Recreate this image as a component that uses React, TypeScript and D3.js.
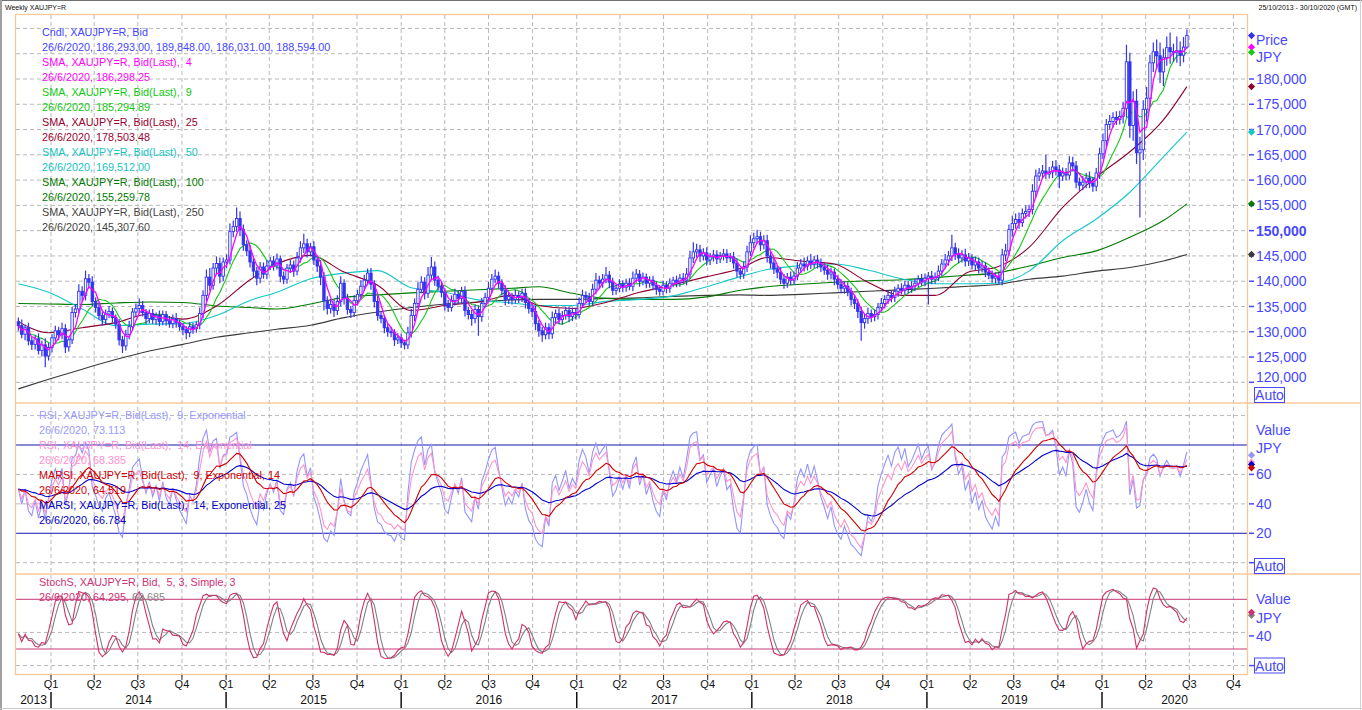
'use client';

import * as d3 from 'd3';
import React, { useEffect, useRef } from 'react';

// weekly candles, first one is the week of 25/10/2013, values in thousands of JPY
const firstWeek = Date.UTC(2013, 9, 25);
const firstOpen = 132.0;

const closes = [
  131.2, 129.5, 130.8, 128.2, 127.5, 128.6, 126.3, 127.4, 125.2, 126.9,
  128.8, 130.2, 129.4, 130.6, 127.0, 128.4, 133.8, 134.5, 138.0, 137.2,
  140.5, 139.8, 136.0, 134.8, 133.2, 132.4, 133.5, 134.0, 132.8, 131.5,
  128.4, 127.2, 129.5, 131.0, 133.9, 134.6, 135.2, 133.8, 132.6, 133.6,
  132.4, 133.2, 132.0, 133.4, 132.2, 131.6, 132.6, 131.8, 131.0, 130.4,
  129.8, 131.0, 130.6, 131.4, 133.6, 137.2, 140.8, 139.2, 142.6, 143.5,
  141.0, 143.8, 144.2, 149.8, 150.8, 152.4, 150.2, 147.2, 146.0, 143.8,
  142.0, 140.6, 142.8, 141.4, 143.0, 144.0, 143.2, 144.4, 141.0, 140.4,
  142.6, 143.2, 142.0, 144.6, 146.6, 147.4, 145.8, 146.8, 144.2, 143.0,
  140.8, 136.2, 134.6, 135.4, 134.2, 136.0, 139.6, 136.6, 134.4, 133.8,
  136.2, 137.4, 139.0, 140.2, 141.6, 139.4, 136.0, 133.2, 132.6, 130.8,
  130.0, 129.8, 128.4, 128.8, 127.8, 127.4, 129.8, 133.2, 135.6, 138.4,
  139.8, 137.6, 141.2, 142.8, 140.2, 139.0, 137.8, 135.4, 134.8, 136.2,
  137.4, 136.6, 138.0, 134.2, 133.4, 132.6, 134.4, 133.0, 135.6, 136.8,
  138.6, 140.4, 141.0, 139.6, 138.2, 136.4, 137.0, 136.4, 137.2, 136.8,
  137.6, 135.8, 134.6, 134.0, 131.6, 130.2, 129.4, 130.8, 129.6, 132.8,
  133.6, 132.4, 133.2, 134.2, 133.0, 133.8, 133.4, 135.6, 137.2, 136.8,
  136.0, 138.4, 140.2, 139.6, 140.4, 141.2, 139.8, 138.2, 138.6, 139.4,
  138.8, 139.6, 139.0, 140.6, 141.4, 140.0, 140.8, 139.6, 140.2, 139.2,
  138.4, 138.0, 139.2, 138.6, 139.6, 140.2, 139.8, 140.6, 140.2, 141.4,
  144.6, 145.8, 146.2, 145.0, 145.6, 144.2, 144.8, 145.2, 144.4, 145.0,
  145.4, 144.6, 144.8, 143.6, 142.0, 141.4, 142.8, 145.8, 147.6, 148.4,
  148.8, 147.2, 148.0, 145.0, 143.6, 142.4, 141.8, 140.4, 139.6, 140.8,
  140.2, 141.0, 142.6, 143.4, 143.0, 144.0, 143.4, 144.2, 143.6, 142.8,
  142.2, 141.4, 141.8, 140.4, 139.4, 138.6, 139.0, 138.0, 136.4, 135.6,
  134.0, 131.8, 132.6, 133.6, 133.0, 133.4, 134.8, 135.6, 136.4, 137.2,
  136.8, 138.0, 138.6, 138.2, 139.2, 138.6, 139.0, 139.6, 140.4, 140.0,
  140.6, 141.0, 140.4, 140.8, 142.0, 143.4, 144.2, 145.0, 146.6, 145.4,
  144.6, 145.2, 144.0, 144.6, 143.2, 143.8, 142.6, 143.0, 141.8, 141.2,
  140.6, 141.0, 140.2, 145.2, 146.0, 150.2, 151.4, 152.2, 151.6, 153.4,
  153.8, 154.2, 157.8, 160.8, 161.4, 161.8, 161.2, 161.6, 162.6, 162.0,
  160.8, 161.4, 161.0, 163.4, 162.8, 159.6, 159.0, 159.6, 160.4, 159.4,
  158.8, 161.4, 165.2, 167.8, 171.0, 171.6, 172.4, 172.0, 172.6, 174.2,
  183.4, 170.8, 175.6, 165.4, 166.0, 174.0, 176.2, 183.2, 185.4, 184.6,
  181.4, 184.2, 186.2, 185.4, 185.2, 185.6, 184.7, 186.3, 188.6,
];

// wick length above the body and below the body, thousands
const wickUp = [
  0.8, 1.2, 0.6, 1.0, 0.9, 0.7, 1.1, 0.8, 1.3, 0.9,
  0.7, 1.0, 0.8, 1.2, 0.9, 0.6, 1.1, 0.9, 1.4, 1.0,
  1.6, 0.9, 1.2, 0.8, 1.0, 0.7, 0.9, 1.1, 0.8, 0.6,
  1.0, 0.8, 0.9, 1.2, 0.8, 1.0, 1.4, 0.9, 0.7, 0.8,
  0.9, 0.6, 1.0, 0.8, 0.7, 0.9, 0.8, 1.1, 0.6, 0.8,
  0.7, 0.9, 0.8, 0.6, 1.2, 1.0, 1.5, 1.8, 1.0, 1.4,
  1.2, 0.9, 1.1, 1.6, 1.2, 2.2, 1.4, 1.0, 0.9, 1.2,
  1.1, 0.8, 1.0, 0.9, 1.2, 0.8, 1.0, 1.1, 0.7, 0.9,
  0.8, 1.0, 0.9, 1.2, 1.3, 2.0, 1.0, 0.8, 1.1, 0.9,
  1.2, 1.0, 0.8, 1.1, 0.9, 1.2, 1.4, 0.8, 0.9, 0.7,
  1.0, 0.9, 1.2, 1.1, 0.9, 1.0, 0.8, 1.1, 0.9, 0.7,
  0.8, 1.0, 0.7, 0.9, 0.8, 0.6, 1.2, 1.3, 1.0, 1.4,
  1.2, 1.0, 1.6, 2.0, 1.1, 0.9, 1.0, 0.8, 0.9, 1.0,
  1.1, 0.8, 0.9, 1.0, 0.7, 0.9, 1.0, 0.8, 1.1, 0.9,
  1.2, 1.0, 1.3, 0.9, 0.8, 1.0, 0.9, 0.7, 1.1, 0.8,
  0.9, 1.0, 0.8, 0.9, 1.1, 0.7, 0.8, 1.0, 0.9, 1.2,
  0.8, 1.0, 0.9, 0.7, 0.8, 1.0, 0.9, 1.2, 1.1, 0.8,
  0.9, 1.1, 1.4, 0.9, 1.0, 1.6, 0.8, 0.9, 0.7, 1.0,
  0.8, 0.9, 1.0, 1.3, 1.0, 0.8, 0.9, 0.7, 0.8, 0.9,
  0.7, 0.8, 0.9, 0.8, 1.0, 0.7, 0.9, 0.8, 1.0, 1.2,
  1.4, 1.9, 1.2, 1.0, 0.9, 1.1, 0.8, 1.0, 0.9, 0.8,
  1.0, 0.9, 0.8, 1.0, 0.9, 0.7, 1.1, 1.2, 1.5, 1.2,
  1.4, 1.0, 1.1, 1.2, 0.9, 1.0, 0.8, 0.9, 1.0, 0.8,
  1.1, 0.9, 1.2, 1.0, 1.3, 0.9, 1.4, 0.8, 1.0, 0.9,
  0.8, 1.0, 0.9, 0.7, 0.8, 1.0, 0.9, 0.8, 0.7, 0.9,
  0.8, 1.0, 0.9, 1.2, 0.8, 1.0, 0.9, 1.1, 0.8, 0.9,
  1.0, 0.9, 0.8, 1.0, 0.9, 0.8, 1.0, 0.9, 0.8, 1.0,
  0.9, 0.8, 1.0, 0.9, 1.1, 1.0, 1.2, 1.0, 2.6, 1.0,
  1.1, 0.9, 1.2, 1.0, 0.8, 1.1, 0.9, 1.0, 0.8, 0.9,
  0.9, 0.7, 0.8, 1.2, 1.4, 1.0, 1.6, 1.2, 1.4, 1.0,
  1.2, 0.9, 1.4, 1.3, 1.0, 1.2, 3.2, 1.0, 1.2, 1.4,
  1.0, 1.1, 1.0, 1.3, 1.2, 1.0, 0.9, 1.2, 1.0, 1.3,
  1.1, 1.0, 1.2, 1.4, 1.1, 1.3, 1.0, 1.2, 1.1, 1.3,
  3.4, 1.8, 2.0, 2.4, 2.6, 1.8, 2.2, 1.6, 1.8, 2.4,
  2.6, 1.8, 2.2, 3.0, 1.6, 2.8, 1.8, 2.0, 1.2,
];

const wickDown = [
  1.0, 0.8, 1.2, 0.9, 1.1, 1.0, 0.8, 1.2, 2.2, 0.9,
  1.0, 0.8, 1.1, 0.9, 1.2, 0.9, 0.8, 1.0, 0.9, 1.2,
  1.0, 1.1, 0.9, 1.0, 0.8, 1.2, 0.9, 0.8, 1.0, 0.9,
  1.1, 1.4, 0.9, 1.0, 0.8, 0.9, 1.0, 0.8, 1.1, 0.9,
  0.8, 1.0, 0.9, 0.7, 1.0, 0.8, 0.9, 1.0, 0.8, 1.1,
  1.3, 0.9, 1.0, 0.8, 0.9, 1.0, 1.2, 1.1, 0.9, 1.3,
  1.4, 1.0, 1.2, 0.9, 1.1, 1.0, 1.3, 1.2, 1.0, 1.1,
  1.2, 1.4, 1.0, 0.9, 1.0, 0.8, 1.1, 0.9, 1.2, 1.0,
  0.9, 1.0, 1.1, 0.8, 0.9, 1.0, 1.1, 0.9, 1.0, 1.2,
  1.6, 2.0, 1.2, 1.0, 1.3, 0.9, 1.0, 1.2, 1.0, 1.1,
  0.9, 1.0, 0.8, 0.9, 1.0, 1.1, 1.2, 1.0, 0.9, 1.1,
  1.0, 0.9, 1.2, 0.8, 1.0, 0.9, 0.8, 1.0, 1.1, 0.9,
  0.8, 1.2, 0.9, 1.0, 1.1, 0.9, 1.0, 1.2, 0.9, 0.8,
  1.0, 1.1, 0.9, 1.2, 1.0, 1.4, 0.9, 3.8, 1.0, 0.8,
  0.9, 1.0, 0.8, 1.1, 1.0, 1.2, 0.9, 1.0, 0.8, 1.1,
  0.9, 1.2, 1.0, 1.1, 1.3, 1.2, 1.4, 0.9, 1.1, 1.0,
  1.2, 0.9, 1.0, 0.8, 1.1, 0.9, 1.0, 0.8, 0.9, 1.0,
  0.9, 0.8, 1.0, 1.1, 0.9, 0.8, 1.2, 1.0, 0.9, 0.8,
  1.0, 0.9, 0.8, 1.0, 0.9, 1.1, 0.8, 1.0, 0.9, 1.0,
  1.1, 0.9, 0.8, 1.0, 0.9, 0.8, 1.0, 0.9, 0.8, 1.0,
  0.9, 1.0, 1.1, 1.2, 0.9, 1.1, 1.0, 0.9, 1.0, 0.8,
  0.9, 1.0, 0.8, 1.1, 1.2, 1.0, 0.9, 1.0, 0.8, 1.1,
  1.0, 1.2, 0.9, 1.3, 1.1, 1.0, 1.2, 1.0, 1.1, 0.9,
  1.0, 0.9, 0.8, 1.0, 1.1, 0.9, 1.0, 0.8, 1.1, 1.0,
  0.9, 1.1, 1.0, 1.2, 0.9, 1.0, 1.1, 1.0, 1.2, 1.1,
  1.3, 3.6, 1.2, 1.0, 1.1, 0.9, 1.0, 0.8, 1.0, 0.9,
  1.0, 0.9, 1.1, 0.8, 0.9, 1.0, 0.9, 1.0, 0.8, 0.9,
  1.0, 5.2, 1.0, 0.9, 0.8, 1.0, 0.9, 1.1, 1.0, 1.2,
  1.0, 0.9, 1.1, 1.0, 0.9, 1.0, 1.1, 0.9, 1.0, 0.8,
  0.9, 1.0, 0.8, 1.0, 1.2, 1.0, 1.4, 1.0, 1.2, 0.9,
  1.0, 1.1, 1.0, 1.2, 1.0, 1.1, 1.0, 0.9, 1.2, 1.1,
  2.4, 1.0, 1.1, 0.9, 1.0, 1.2, 1.1, 1.0, 1.2, 1.0,
  1.1, 1.0, 1.2, 1.1, 1.3, 1.0, 1.2, 1.1, 1.0, 1.4,
  1.8, 2.4, 3.0, 2.2, 12.8, 2.0, 2.4, 1.6, 1.8, 2.6,
  2.2, 2.8, 1.6, 2.4, 1.8, 2.0, 2.2, 1.4, 0.3,
];

// longer moving averages at these week numbers
const smaWeeks = [
  0, 9, 19, 29, 39, 49, 59, 69, 77, 87, 97, 107, 117, 127, 137, 147, 155, 165, 175,
  185, 195, 205, 215, 223, 233, 243, 253, 263, 273, 283, 291, 301, 311, 321, 331, 341, 348,
];
const sma25 = [
  132.0, 129.8, 130.8, 131.8, 133.5, 132.5, 135.1, 140.3, 143.4, 145.1, 141.8, 139.2, 134.2, 135.2, 135.9, 137.2, 135.2, 134.6, 135.8,
  137.8, 139.3, 140.9, 142.5, 144.7, 144.0, 143.4, 139.8, 137.2, 137.2, 141.8, 142.7, 146.7, 154.6, 160.6, 165.6, 171.9, 178.5,
];
const sma50 = [
  139.5, 137.8, 134.5, 131.2, 131.5, 131.6, 133.2, 136.2, 137.8, 140.5, 141.6, 142.1, 138.7, 137.8, 136.3, 135.7, 135.2, 135.2, 136.0,
  136.4, 137.1, 138.9, 140.9, 142.3, 143.1, 143.4, 142.2, 140.5, 139.5, 139.5, 139.6, 142.0, 148.0, 152.3, 157.6, 164.6, 169.5,
];
const sma100 = [
  135.6, 135.5, 135.4, 135.7, 135.9, 135.8, 135.1, 134.8, 134.5, 135.5, 136.8, 137.3, 137.7, 138.0, 138.3, 138.6, 138.9, 137.6, 136.6,
  136.4, 136.4, 136.9, 138.2, 138.9, 139.4, 139.8, 140.1, 140.3, 140.7, 141.2, 141.6, 143.0, 144.7, 146.0, 148.7, 152.0, 155.3,
];
const sma250 = [
  118.7, 120.6, 122.6, 124.5, 126.2, 127.5, 128.9, 129.8, 130.5, 131.3, 132.8, 133.9, 134.8, 135.5, 135.9, 136.3, 136.4, 136.4, 136.6,
  136.7, 137.0, 137.2, 137.3, 137.2, 137.4, 137.7, 138.0, 138.3, 138.6, 139.0, 139.3, 140.4, 141.0, 142.0, 142.7, 144.0, 145.3,
];

const priceTicks = [120, 125, 130, 135, 140, 145, 150, 155, 160, 165, 170, 175, 180];
const priceGrid = [120, 125, 130, 135, 140, 145, 150, 155, 160, 165, 170, 175, 180, 185, 190];
const rsiTicks = [20, 40, 60];
const rsiGrid = [0, 40, 60, 100];
const rsiBands = [20, 80];
const stochTicks = [40];
const stochGrid = [0, 40];
const stochBands = [20, 80];
const years = [2013, 2014, 2015, 2016, 2017, 2018, 2019, 2020];

const mainLegend = [
  ['Cndl, XAUJPY=R, Bid', '#4646ff'],
  ['26/6/2020, 186,293.00, 189,848.00, 186,031.00, 188,594.00', '#4646ff'],
  ['SMA, XAUJPY=R, Bid(Last),  4', '#ff00ff'],
  ['26/6/2020, 186,298.25', '#ff00ff'],
  ['SMA, XAUJPY=R, Bid(Last),  9', '#11c811'],
  ['26/6/2020, 185,294.89', '#11c811'],
  ['SMA, XAUJPY=R, Bid(Last),  25', '#99002e'],
  ['26/6/2020, 178,503.48', '#99002e'],
  ['SMA, XAUJPY=R, Bid(Last),  50', '#14c4c4'],
  ['26/6/2020, 169,512.00', '#14c4c4'],
  ['SMA, XAUJPY=R, Bid(Last),  100', '#007a00'],
  ['26/6/2020, 155,259.78', '#007a00'],
  ['SMA, XAUJPY=R, Bid(Last),  250', '#444444'],
  ['26/6/2020, 145,307.60', '#444444'],
];
const rsiLegend = [
  ['RSI, XAUJPY=R, Bid(Last),  9, Exponential', '#9a9aff'],
  ['26/6/2020, 73.113', '#9a9aff'],
  ['RSI, XAUJPY=R, Bid(Last),  14, Exponential', '#ff8fd0'],
  ['26/6/2020, 68.385', '#ff8fd0'],
  ['MARSI, XAUJPY=R, Bid(Last),  9, Exponential, 14', '#d00000'],
  ['26/6/2020, 64.519', '#d00000'],
  ['MARSI, XAUJPY=R, Bid(Last),  14, Exponential, 25', '#0000c0'],
  ['26/6/2020, 66.784', '#0000c0'],
];

const W = 1362;
const H = 710;
const left = 16;
const right = 1247;
const top = 15;
const mainBottom = 403;
const rsiBottom = 574;
const bottom = 674;
const font = 'Liberation Sans, Arial, Helvetica, sans-serif';
const legendSize = 10.8;
const axisBlue = '#4848ff';
const candleBlue = '#3434f0';
const grid = '#b8b8b8';
const frame = '#f8c898';

function rollingMean(vals: number[], n: number) {
  return vals.map((_, i) => d3.mean(vals.slice(Math.max(0, i - n + 1), i + 1)) as number);
}

function ema(vals: number[], n: number) {
  const a = 2 / (n + 1);
  let e = vals[0];
  return vals.map(v => (e = e + a * (v - e)));
}

function rsi(vals: number[], n: number) {
  const a = 2 / (n + 1);
  const diffs = vals.slice(1).map((v, i) => v - vals[i]);
  const seed = (d3.mean(diffs.slice(0, n), d => Math.abs(d)) as number) / 2;
  let up = seed;
  let dn = seed;
  const out = [50];
  diffs.forEach(d => {
    up += a * (Math.max(d, 0) - up);
    dn += a * (Math.max(-d, 0) - dn);
    out.push((100 * up) / (up + dn));
  });
  return out;
}

export default function App() {
  const svgRef = useRef<SVGSVGElement | null>(null);

  useEffect(() => {
    document.body.style.margin = '0';

    const weeks = closes.map((_, i) => new Date(firstWeek + i * 7 * 864e5));
    const opens = closes.map((_, i) => (i === 0 ? firstOpen : closes[i - 1]));
    const highs = closes.map((c, i) => Math.max(opens[i], c) + wickUp[i]);
    const lows = closes.map((c, i) => Math.min(opens[i], c) - wickDown[i]);

    const x = d3.scaleUtc()
      .domain([new Date(Date.UTC(2014, 0, 1)), new Date(Date.UTC(2020, 0, 1))])
      .range([51, 1102]);
    const yMain = d3.scaleLinear().domain([120, 180]).range([382.3, 79]);
    const yRsi = d3.scaleLinear().domain([0, 80]).range([562.7, 445]);
    const yStoch = d3.scaleLinear().domain([20, 80]).range([649, 599.3]);

    // indicators
    const sma4 = rollingMean(closes, 4);
    const sma9 = rollingMean(closes, 9);
    const rsi9 = rsi(closes, 9);
    const rsi14 = rsi(closes, 14);
    const marsi9 = ema(rsi9, 14);
    const marsi14 = ema(rsi14, 25);
    const rawK = closes.map((c, i) => {
      const s = Math.max(0, i - 4);
      const hh = d3.max(highs.slice(s, i + 1)) as number;
      const ll = d3.min(lows.slice(s, i + 1)) as number;
      return (100 * (c - ll)) / (hh - ll);
    });
    const stochK = rollingMean(rawK, 3);
    const stochD = rollingMean(stochK, 3);

    const svg = d3.select(svgRef.current)
      .attr('width', W)
      .attr('height', H)
      .attr('viewBox', `0 0 ${W} ${H}`)
      .style('font-family', font);

    svg.selectAll('*').remove();

    svg.append('rect').attr('width', W).attr('height', H).attr('fill', '#fff');

    const defs = svg.append('defs');
    const clip = (id: string, y0: number, y1: number) =>
      defs.append('clipPath').attr('id', id)
        .append('rect').attr('x', left).attr('y', y0).attr('width', right - left).attr('height', y1 - y0);
    clip('clipMain', top, mainBottom);
    clip('clipRsi', mainBottom, rsiBottom);
    clip('clipStoch', rsiBottom, bottom);

    // window frame and header
    svg.append('line').attr('x1', 0).attr('x2', W).attr('y1', 0.5).attr('y2', 0.5).attr('stroke', '#707070');
    svg.append('line').attr('x1', 1).attr('x2', 1).attr('y1', 0).attr('y2', H).attr('stroke', '#a0a0a0').attr('stroke-width', 2);
    svg.append('line').attr('x1', 0).attr('x2', W).attr('y1', 708.5).attr('y2', 708.5).attr('stroke', '#c8c8c8');
    svg.append('line').attr('x1', W - 1.5).attr('x2', W - 1.5).attr('y1', 0).attr('y2', H).attr('stroke', '#d0d0d0');
    svg.append('text').attr('x', 5).attr('y', 10).attr('font-size', 7).attr('fill', '#111').text('Weekly XAUJPY=R');
    svg.append('text').attr('x', 1357).attr('y', 10).attr('font-size', 7).attr('fill', '#111')
      .attr('text-anchor', 'end').text('25/10/2013 - 30/10/2020 (GMT)');

    // quarter grid
    const quarters = d3.utcMonth.every(3)!.range(new Date(Date.UTC(2014, 0, 1)), new Date(Date.UTC(2020, 10, 1)));
    svg.append('g').selectAll('line').data(quarters).join('line')
      .attr('x1', d => x(d)).attr('x2', d => x(d))
      .attr('y1', top).attr('y2', bottom + 6)
      .attr('stroke', grid).attr('stroke-dasharray', '4,3');

    const hGrid = (vals: number[], y: (v: number) => number, dashed: boolean, color: string) =>
      svg.append('g').selectAll('line').data(vals).join('line')
        .attr('x1', left).attr('x2', right)
        .attr('y1', d => y(d)).attr('y2', d => y(d))
        .attr('stroke', color)
        .attr('stroke-dasharray', dashed ? '4,3' : null);
    hGrid(priceGrid, yMain, true, grid);
    hGrid(rsiGrid, yRsi, true, grid);
    hGrid(stochGrid, yStoch, true, grid);
    hGrid(rsiBands, yRsi, false, '#1414b0');
    hGrid(stochBands, yStoch, false, '#c83874');

    // main panel
    const main = svg.append('g').attr('clip-path', 'url(#clipMain)');
    const sampled = d3.line<number>()
      .x((_, i) => x(weeks[smaWeeks[i]]))
      .y(d => yMain(d))
      .curve(d3.curveMonotoneX);
    const weekly = (y: (v: number) => number) => d3.line<number>()
      .x((_, i) => x(weeks[i]))
      .y(d => y(d));

    [[sma250, '#3a3a3a'], [sma100, '#007a00'], [sma50, '#10c8c8'], [sma25, '#8c0030']].forEach(([vals, color]) => {
      main.append('path').datum(vals as number[])
        .attr('fill', 'none').attr('stroke', color as string).attr('stroke-width', 1.1)
        .attr('d', sampled);
    });
    main.append('path').datum(sma9)
      .attr('fill', 'none').attr('stroke', '#14c814').attr('stroke-width', 1.1)
      .attr('d', weekly(yMain));

    const candles = main.append('g').selectAll('g')
      .data(closes.map((c, i) => ({ t: weeks[i], o: opens[i], c, h: highs[i], l: lows[i] })))
      .join('g');
    candles.append('line')
      .attr('x1', d => x(d.t)).attr('x2', d => x(d.t))
      .attr('y1', d => yMain(d.h)).attr('y2', d => yMain(d.l))
      .attr('stroke', candleBlue).attr('stroke-width', 1.2);
    candles.append('rect')
      .attr('x', d => x(d.t) - 1.2).attr('width', 2.4)
      .attr('y', d => yMain(Math.max(d.o, d.c)))
      .attr('height', d => Math.max(1, Math.abs(yMain(d.o) - yMain(d.c))))
      .attr('fill', d => (d.c >= d.o ? '#fff' : candleBlue))
      .attr('stroke', candleBlue).attr('stroke-width', 0.9);

    main.append('path').datum(sma4)
      .attr('fill', 'none').attr('stroke', '#ff00ff').attr('stroke-width', 1.3)
      .attr('d', weekly(yMain));

    // RSI panel
    const rsiG = svg.append('g').attr('clip-path', 'url(#clipRsi)');
    [[rsi9, '#9494ff'], [rsi14, '#ff94cc'], [marsi14, '#0000c8'], [marsi9, '#d00000']].forEach(([vals, color]) => {
      rsiG.append('path').datum(vals as number[])
        .attr('fill', 'none').attr('stroke', color as string).attr('stroke-width', 1.1)
        .attr('d', weekly(yRsi));
    });

    // stochastic panel
    const stochG = svg.append('g').attr('clip-path', 'url(#clipStoch)');
    [[stochD, '#808080'], [stochK, '#d0306c']].forEach(([vals, color]) => {
      stochG.append('path').datum(vals as number[])
        .attr('fill', 'none').attr('stroke', color as string).attr('stroke-width', 1.1)
        .attr('d', weekly(yStoch));
    });

    // panel frames
    svg.append('rect').attr('x', left - 0.5).attr('y', top - 0.5)
      .attr('width', right - left + 1).attr('height', bottom - top + 1)
      .attr('fill', 'none').attr('stroke', frame).attr('stroke-width', 1.3);
    [mainBottom, rsiBottom].forEach(y => {
      svg.append('line').attr('x1', left).attr('x2', W - 2).attr('y1', y).attr('y2', y)
        .attr('stroke', frame).attr('stroke-width', 1.3);
    });

    // legends
    const legend = (rows: string[][], x0: number, y0: number) =>
      svg.append('g').selectAll('text').data(rows).join('text')
        .attr('x', x0).attr('y', (_, i) => y0 + i * 15)
        .attr('font-size', legendSize).attr('fill', d => d[1])
        .attr('xml:space', 'preserve').style('white-space', 'pre')
        .text(d => d[0]);
    legend(mainLegend, 42, 35.5);
    legend(rsiLegend, 39, 418.5);
    svg.append('text').attr('x', 39).attr('y', 585.5).attr('font-size', legendSize).attr('fill', '#cc3377')
      .attr('xml:space', 'preserve').style('white-space', 'pre')
      .text('StochS, XAUJPY=R, Bid,  5, 3, Simple, 3');
    const stochVal = svg.append('text').attr('x', 39).attr('y', 600.5).attr('font-size', legendSize);
    stochVal.append('tspan').attr('fill', '#cc3377').text('26/6/2020, 64.295, ');
    stochVal.append('tspan').attr('fill', '#888').text('60.685');

    // right axes
    const axis = svg.append('g').attr('fill', axisBlue).attr('font-size', 14);
    const tickMark = (y: number) =>
      axis.append('line').attr('x1', 1249).attr('x2', 1254).attr('y1', y).attr('y2', y)
        .attr('stroke', axisBlue).attr('stroke-width', 1.5);
    const label = (txt: string, y: number, bold = false) =>
      axis.append('text').attr('x', 1256).attr('y', y).attr('dy', '0.36em')
        .attr('font-weight', bold ? 'bold' : null).text(txt);
    const autoBox = (y: number) => {
      axis.append('rect').attr('x', 1254.5).attr('y', y - 7.5).attr('width', 30).attr('height', 15)
        .attr('fill', 'none').attr('stroke', axisBlue);
      axis.append('text').attr('x', 1269.5).attr('y', y).attr('dy', '0.36em')
        .attr('text-anchor', 'middle').text('Auto');
    };

    priceTicks.forEach(t => {
      const y = yMain(t);
      tickMark(y);
      label(d3.format(',')(t * 1000), t === 120 ? y - 5 : y, t === 150);
    });
    label('Price', yMain(187.7));
    label('JPY', yMain(184.3));
    autoBox(395);

    rsiTicks.forEach(t => {
      tickMark(yRsi(t));
      label(String(t), yRsi(t));
    });
    label('Value', yRsi(90));
    label('JPY', yRsi(78));
    tickMark(yRsi(0));
    autoBox(566);

    stochTicks.forEach(t => {
      tickMark(yStoch(t) + 3.5);
      label(String(t), yStoch(t) + 3.5);
    });
    label('Value', yStoch(80));
    label('JPY', yStoch(58));
    tickMark(yStoch(0));
    autoBox(665.5);

    // last-value markers
    const last = closes.length - 1;
    const diamond = d3.symbol(d3.symbolSquare, 26);
    const markers: [number, string][] = [
      [yMain(closes[last]), '#3434f0'],
      [yMain(sma4[last]), '#ff00ff'],
      [yMain(sma9[last]), '#14c814'],
      [yMain(sma25[sma25.length - 1]), '#8c0030'],
      [yMain(sma50[sma50.length - 1]), '#10c8c8'],
      [yMain(sma100[sma100.length - 1]), '#007a00'],
      [yMain(sma250[sma250.length - 1]), '#3a3a3a'],
      [yRsi(73.113), '#9494ff'],
      [yRsi(68.385), '#ff94cc'],
      [yRsi(66.784), '#0000c8'],
      [yRsi(64.519), '#d00000'],
      [yStoch(60.685), '#808080'],
      [yStoch(64.295), '#d0306c'],
    ];
    svg.append('g').selectAll('path').data(markers).join('path')
      .attr('d', diamond)
      .attr('transform', d => `translate(1251.5,${d[0]}) rotate(45)`)
      .attr('fill', d => d[1]);

    // time axis
    const tAxis = svg.append('g').attr('fill', '#111');
    tAxis.selectAll('line.q').data(quarters).join('line')
      .attr('x1', d => x(d)).attr('x2', d => x(d)).attr('y1', bottom + 1).attr('y2', bottom + 6)
      .attr('stroke', '#222');
    tAxis.selectAll('text.q').data(quarters).join('text')
      .attr('x', d => x(d)).attr('y', 688).attr('text-anchor', 'middle').attr('font-size', 11)
      .text(d => `Q${d.getUTCMonth() / 3 + 1}`);
    const yearStarts = years.slice(1).map(y => new Date(Date.UTC(y, 0, 1)));
    tAxis.selectAll('line.y').data(yearStarts).join('line')
      .attr('x1', d => x(d)).attr('x2', d => x(d)).attr('y1', 692).attr('y2', 708)
      .attr('stroke', '#111').attr('stroke-width', 1.5);
    tAxis.selectAll('text.y').data(years).join('text')
      .attr('x', y => {
        const a = Math.max(left, x(new Date(Date.UTC(y, 0, 1))));
        const b = Math.min(right, x(new Date(Date.UTC(y + 1, 0, 1))));
        return (a + b) / 2;
      })
      .attr('y', 704).attr('text-anchor', 'middle').attr('font-size', 12)
      .text(y => String(y));
  }, []);

  return <svg ref={svgRef} style={{ display: 'block' }}></svg>;
}
